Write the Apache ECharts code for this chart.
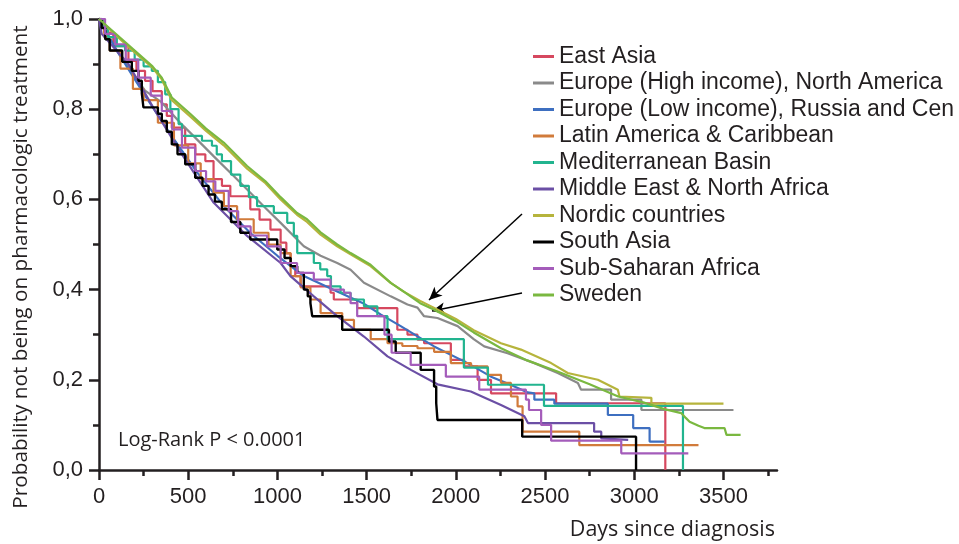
<!DOCTYPE html>
<html><head><meta charset="utf-8">
<script src="https://cdn.jsdelivr.net/npm/echarts@6/dist/echarts.min.js"></script>
<style>html,body{margin:0;padding:0;background:#fff}#c{width:959px;height:544px}</style>
</head><body><div id="c"></div>
<script>
// ---- categories / ticks ----
const seriesNames = [
  'East Asia',
  'Europe (High income), North America',
  'Europe (Low income), Russia and Cen',
  'Latin America & Caribbean',
  'Mediterranean Basin',
  'Middle East & North Africa',
  'Nordic countries',
  'South Asia',
  'Sub-Saharan Africa',
  'Sweden'
];
const xTickValues = [0, 500, 1000, 1500, 2000, 2500, 3000, 3500];
const xMinorTickValues = [250, 750, 1250, 1750, 2250, 2750, 3250, 3750];
const yTickValues = [0, 0.2, 0.4, 0.6, 0.8, 1.0];

// ---- series values: [days, probability] ----
const eastAsia = [[0,1],[30,0.97],[80,0.94],[165,0.907],[210,0.885],[258,0.863],[300,0.84],[352,0.811],[380,0.785],[408,0.759],[483,0.722],[540,0.70],[596,0.685],[642,0.645],[689,0.63],[736,0.607],[848,0.578],[900,0.555],[961,0.533],[1018,0.504],[1050,0.48],[1074,0.452],[1100,0.43],[1130,0.407],[1298,0.393],[1316,0.378],[1447,0.359],[1672,0.311],[1729,0.30],[1785,0.289],[1822,0.281],[1972,0.244],[2047,0.23],[2122,0.2],[2197,0.17],[2562,0.148],[3174,0]];
const europeHigh = [[0,1],[100,0.93],[258,0.841],[352,0.815],[455,0.77],[539,0.737],[642,0.696],[783,0.641],[933,0.581],[1018,0.548],[1148,0.496],[1242,0.475],[1335,0.459],[1410,0.444],[1485,0.415],[1635,0.385],[1729,0.367],[1785,0.36],[1822,0.341],[1897,0.337],[2010,0.319],[2100,0.29],[2159,0.274],[2290,0.259],[2440,0.237],[2571,0.215],[2684,0.193],[2702,0.178],[2870,0.178],[2870,0.156],[3040,0.156],[3040,0.133],[3556,0.133]];
const europeLow = [[0,1],[100,0.93],[250,0.835],[400,0.745],[550,0.66],[700,0.585],[850,0.525],[1000,0.475],[1148,0.43],[1335,0.396],[1480,0.37],[1578,0.345],[1691,0.319],[1878,0.274],[2066,0.237],[2197,0.207],[2300,0.19],[2403,0.172],[2440,0.17],[2440,0.156],[2552,0.156],[2552,0.147],[2852,0.147],[2852,0.122],[2994,0.122],[2994,0.093],[3086,0.093],[3086,0.063],[3169,0.063]];
const latinAmerica = [[0,1],[30,0.96],[60,0.93],[120,0.89],[190,0.845],[250,0.82],[330,0.77],[420,0.72],[500,0.68],[570,0.645],[642,0.615],[700,0.585],[774,0.556],[867,0.526],[950,0.50],[1018,0.481],[1074,0.43],[1130,0.405],[1185,0.378],[1242,0.348],[1363,0.333],[1429,0.311],[1523,0.29],[1617,0.281],[1700,0.275],[1785,0.27],[1878,0.262],[1972,0.237],[2085,0.23],[2178,0.211],[2253,0.193],[2309,0.163],[2346,0.141],[2374,0.085],[2692,0.055],[3360,0.055]];
const mediterranean = [[0,1],[20,0.98],[50,0.96],[100,0.94],[146,0.93],[200,0.91],[250,0.895],[296,0.885],[330,0.86],[371,0.833],[400,0.80],[446,0.767],[465,0.741],[577,0.73],[633,0.719],[660,0.70],[689,0.685],[740,0.655],[792,0.63],[840,0.605],[886,0.585],[980,0.57],[1055,0.548],[1092,0.519],[1111,0.481],[1204,0.459],[1240,0.445],[1279,0.43],[1300,0.407],[1354,0.393],[1410,0.378],[1485,0.363],[1560,0.341],[1617,0.29],[2045,0.227],[2180,0.189],[2494,0.142],[3273,0]];
const middleEast = [[0,1],[15,0.967],[165,0.90],[315,0.796],[465,0.70],[614,0.61],[642,0.593],[830,0.519],[1018,0.459],[1073,0.43],[1204,0.385],[1335,0.341],[1485,0.296],[1617,0.252],[1748,0.222],[1897,0.19],[2084,0.174],[2253,0.144],[2384,0.119],[2404,0.104],[2775,0.104],[2775,0.085],[2815,0.085],[2815,0.07],[2966,0.067]];
const nordic = [[0,1],[100,0.962],[200,0.926],[300,0.892],[352,0.866],[408,0.82],[511,0.784],[600,0.752],[699,0.72],[830,0.668],[933,0.636],[1018,0.60],[1110,0.566],[1166,0.55],[1242,0.522],[1335,0.496],[1410,0.478],[1522,0.452],[1635,0.415],[1710,0.395],[1800,0.375],[1876,0.36],[2000,0.335],[2100,0.31],[2253,0.281],[2365,0.267],[2534,0.237],[2627,0.215],[2796,0.2],[2908,0.178],[2917,0.163],[3096,0.16],[3096,0.147],[3500,0.147]];
const southAsia = [[0,1],[15,0.98],[35,0.955],[60,0.93],[130,0.905],[184,0.885],[221,0.863],[240,0.835],[249,0.804],[330,0.79],[352,0.774],[380,0.75],[408,0.722],[440,0.70],[483,0.678],[539,0.648],[580,0.63],[614,0.611],[650,0.595],[689,0.578],[740,0.55],[792,0.526],[848,0.511],[999,0.489],[1040,0.47],[1074,0.452],[1111,0.437],[1148,0.4],[1170,0.385],[1185,0.37],[1195,0.341],[1363,0.311],[1625,0.285],[1663,0.26],[1803,0.222],[1878,0.185],[1890,0.148],[1897,0.111],[2372,0.074],[3010,0]];
const subSaharan = [[0,1],[34,0.967],[90,0.944],[150,0.91],[220,0.87],[290,0.83],[352,0.796],[410,0.755],[465,0.715],[539,0.663],[600,0.64],[652,0.619],[727,0.574],[780,0.54],[850,0.52],[942,0.496],[1018,0.459],[1110,0.437],[1204,0.422],[1298,0.40],[1373,0.393],[1410,0.37],[1447,0.341],[1600,0.30],[1640,0.26],[1747,0.233],[1944,0.207],[2131,0.178],[2393,0.156],[2410,0.133],[2478,0.1],[2534,0.065],[2927,0.037],[3303,0.037]];
const sweden = [[0,1],[100,0.965],[200,0.93],[300,0.895],[352,0.87],[408,0.826],[511,0.79],[600,0.757],[699,0.726],[830,0.674],[933,0.64],[1018,0.605],[1110,0.57],[1166,0.556],[1242,0.527],[1335,0.5],[1410,0.481],[1522,0.455],[1635,0.415],[1710,0.395],[1800,0.37],[1876,0.356],[2000,0.33],[2100,0.305],[2253,0.27],[2400,0.243],[2573,0.218],[2750,0.19],[2910,0.163],[3050,0.15],[3169,0.135],[3264,0.126],[3290,0.115],[3310,0.107],[3360,0.098],[3393,0.093],[3506,0.093],[3517,0.078],[3596,0.078]];

const seriesData = [eastAsia, europeHigh, europeLow, latinAmerica, mediterranean, middleEast, nordic, southAsia, subSaharan, sweden];
const seriesColors = ['#d6485f','#8a8a8a','#3e6fc0','#d17b3b','#22b48f','#6b4fa5','#b6b43c','#000000','#a45cba','#7ab840'];
const seriesStep = ['end', false, false, 'end', 'end', false, false, 'end', 'end', false];

const txt = '#231f20';
const chart = echarts.init(document.getElementById('c'), null, {renderer: 'canvas'});

const series = seriesNames.map((name, i) => ({
  name: name,
  type: 'line',
  data: seriesData[i],
  step: seriesStep[i],
  showSymbol: false,
  symbol: 'none',
  smooth: false,
  color: seriesColors[i],
  lineStyle: {width: i === 7 ? 2.4 : 2.2, color: seriesColors[i]},
  emphasis: {disabled: true},
  z: 2 + i
}));
series[9].markLine = {
  silent: true,
  symbol: ['none', 'arrow'],
  symbolSize: [9, 13],
  label: {show: false},
  lineStyle: {color: '#000', width: 1.5, type: 'solid'},
  emphasis: {disabled: true},
  data: [
    [{x: 522, y: 214}, {x: 429, y: 300}],
    [{x: 522, y: 293}, {x: 432, y: 311}]
  ]
};

chart.setOption({
  animation: false,
  backgroundColor: '#fff',
  grid: {left: 99, right: 182, top: 19, bottom: 74},
  legend: {
    data: seriesNames,
    orient: 'vertical',
    left: 533,
    top: 45,
    padding: 0,
    itemWidth: 21,
    itemHeight: 3,
    itemGap: 3.5,
    icon: 'rect',
    selectedMode: false,
    textStyle: {fontFamily: 'Liberation Sans', fontSize: 23, lineHeight: 23, color: txt}
  },
  xAxis: [{
    type: 'value', min: 0, max: 3800,
    axisLine: {show: true, lineStyle: {color: txt, width: 2.5}},
    axisTick: {show: true, length: 10, lineStyle: {color: txt, width: 2.5}, customValues: xTickValues},
    axisLabel: {show: true, margin: 16, fontFamily: 'Liberation Sans', fontSize: 22, color: txt,
      customValues: xTickValues, formatter: v => String(v)},
    splitLine: {show: false}
  }, {
    type: 'value', min: 0, max: 3800, position: 'bottom',
    axisLine: {show: false},
    axisTick: {show: true, length: 6, lineStyle: {color: txt, width: 2.5}, customValues: xMinorTickValues},
    axisLabel: {show: false},
    splitLine: {show: false}
  }],
  yAxis: [{
    type: 'value', min: 0, max: 1, interval: 0.2,
    axisLine: {show: true, lineStyle: {color: txt, width: 2.5}},
    axisTick: {show: true, length: 10, lineStyle: {color: txt, width: 2.5}},
    minorTick: {show: true, splitNumber: 2, length: 6, lineStyle: {color: txt, width: 2.5}},
    axisLabel: {show: true, margin: 16, fontFamily: 'Liberation Sans', fontSize: 22, color: txt,
      formatter: v => v.toFixed(1).replace('.', ',')},
    splitLine: {show: false},
    minorSplitLine: {show: false}
  }],
  graphic: [
    {type: 'text', x: 21, y: 267, rotation: Math.PI / 2,
      style: {text: 'Probability not being on pharmacologic treatment', fontFamily: 'Open Sans', fontSize: 20.8,
        fill: txt, textAlign: 'center', textVerticalAlign: 'middle'}},
    {type: 'text', x: 775, y: 530,
      style: {text: 'Days since diagnosis', fontFamily: 'Open Sans', fontSize: 21.5, fill: txt,
        textAlign: 'right', textVerticalAlign: 'middle'}},
    {type: 'text', x: 118, y: 440,
      style: {text: 'Log-Rank P < 0.0001', fontFamily: 'Open Sans', fontSize: 20, fill: txt,
        textAlign: 'left', textVerticalAlign: 'middle'}}
  ],
  series: series
});
</script>
</body></html>
